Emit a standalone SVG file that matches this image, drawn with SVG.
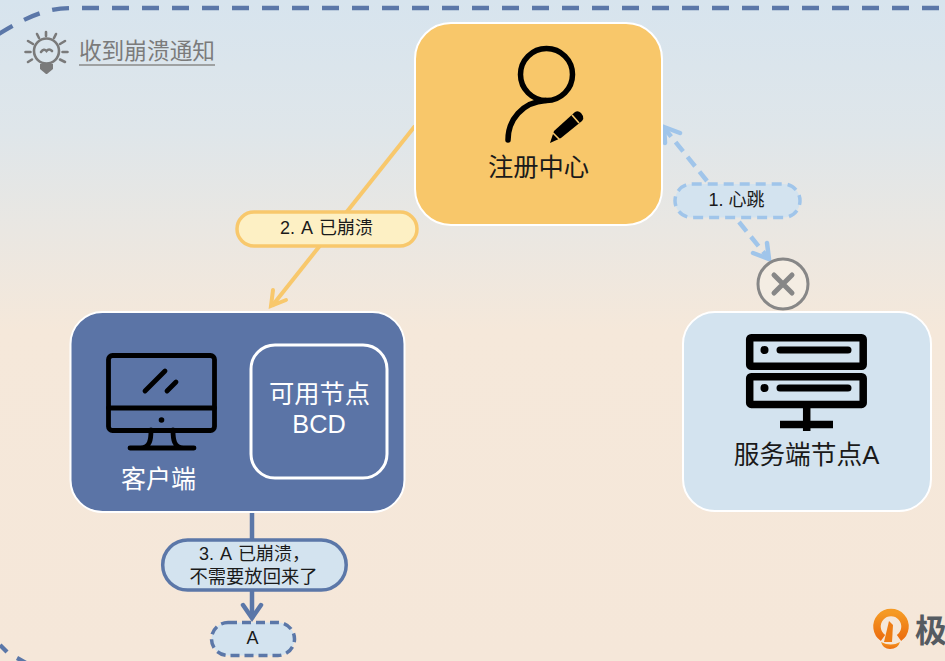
<svg xmlns="http://www.w3.org/2000/svg" width="945" height="661" viewBox="0 0 945 661">
<style>
text{font-family:"Liberation Sans","Noto Sans CJK SC",sans-serif;text-anchor:middle;fill:#1a1a1a}
.ink{fill:none;stroke:#000;stroke-linecap:round;stroke-linejoin:round}
.frame{fill:none;stroke:#5b77a8;stroke-width:4.300}
.node{stroke:#fff;stroke-width:2}
.bulb{fill:none;stroke:#7a7a7a;stroke-width:2.600;stroke-linecap:round}
.lbl{font-size:18px}
.wide{font-size:18px;word-spacing:2px}
</style>
<defs>
<linearGradient id="bg" x1="0" y1="0" x2="0" y2="1">
<stop offset="0" stop-color="#d7e4ee"/><stop offset="0.2" stop-color="#dfe6ea"/><stop offset="0.5" stop-color="#f5e8da"/><stop offset="1" stop-color="#f5e7d9"/>
</linearGradient>
<linearGradient id="logo" x1="0" y1="0" x2="0" y2="1">
<stop offset="0" stop-color="#f59a24"/><stop offset="1" stop-color="#ec6f10"/>
</linearGradient>
</defs>
<rect id="background" width="945" height="661" fill="url(#bg)"/>
<g id="frame">
<path class="frame" d="M969 8H72C50 8 30 14 -6 37" stroke-dasharray="17 13"/>
<path class="frame" d="M0 645L7 652M17 658L26 663"/>
</g>
<g id="connectors">
<path d="M415 126L272 306" fill="none" stroke="#f8c86c" stroke-width="4"/>
<path d="M273 290L271 306L286 300" fill="none" stroke="#f8c86c" stroke-width="4" stroke-linecap="round"/>
<path d="M707 181L665 129M739 222L769 259" fill="none" stroke="#a0c5ea" stroke-width="4.500" stroke-dasharray="12 7"/>
<path d="M665 143L664 127L680 133M753 253L769 259L767 243" fill="none" stroke="#a0c5ea" stroke-width="4.500" stroke-linecap="round"/>
<path d="M252 511V618" fill="none" stroke="#5b77a8" stroke-width="4.500"/>
<path d="M243 605L252 618L261 605" fill="none" stroke="#5b77a8" stroke-width="4.500" stroke-linecap="round"/>
</g>
<g id="notice">
<g id="bulb-icon">
<circle cx="46.500" cy="51" r="12.500" class="bulb"/>
<path d="M40 64H53V69L47 74H46L40 69Z" fill="#7a7a7a"/>
<path class="bulb" stroke-width="1.500" d="M41 52Q44 48 46.500 51Q49 48 52 51M46 32V36M37 34L39 38M56 34L54 38M28 41L33 44M65 41L60 44M25.500 52H30.500M62.500 52H67.500M28 62L32 59.500M65 62L60 59.500"/>
</g>
<text x="147" y="59" font-size="22.700" style="fill:#7b7b7b">收到崩溃通知</text>
<path d="M79 65H215" stroke="#8a8a8a" stroke-width="1.300" fill="none"/>
</g>
<g id="registry">
<rect class="node" x="415" y="23" width="247" height="202" rx="36" fill="#f8c76a"/>
<circle class="ink" cx="546.500" cy="74.500" r="26" stroke-width="5.500"/>
<path class="ink" stroke-width="5.500" d="M508 140C508 120 522 102 546 100.500"/>
<path d="M550 143L554 131L575 112Q578 110 581 113L583 116Q584 119 582 121L561 138Z" fill="#000"/>
<path d="M553 133L560 140" stroke="#f8c76a" stroke-width="1.600"/>
<path d="M572 115L579 123" stroke="#f8c76a" stroke-width="1.600"/>
<text x="538.500" y="176" font-size="25.300">注册中心</text>
</g>
<g id="client">
<rect class="node" x="70.500" y="312" width="334" height="200" rx="32" fill="#5b74a6"/>
<g class="ink">
<rect x="108.500" y="355.500" width="106" height="75" rx="4" stroke-width="4.800"/>
<path stroke-width="4.800" d="M108.500 408H214.500M145 391L165 371M167 391L176 382M151 430C151 440 150 447 141 448M173 430C173 440 174 447 183 448M130 448H194"/>
</g>
<circle cx="161.500" cy="420" r="2.800" fill="#000"/>
<text x="158.500" y="488" font-size="25" style="fill:#fff">客户端</text>
<rect x="251" y="345" width="136" height="133" rx="24" fill="#5b74a6" stroke="#fff" stroke-width="3"/>
<text x="319.500" y="403" font-size="25.300" style="fill:#fff">可用节点</text>
<text x="319" y="433" font-size="25.300" style="fill:#fff">BCD</text>
</g>
<g id="server">
<rect class="node" x="683" y="312" width="248" height="199" rx="32" fill="#d3e3ef"/>
<rect x="749.700" y="337.700" width="113.500" height="28.500" rx="1.500" fill="none" stroke="#000" stroke-width="7.500"/>
<rect x="749.700" y="376.700" width="113.500" height="27.700" rx="1.500" fill="none" stroke="#000" stroke-width="7.500"/>
<path d="M780 350H848M780 388H848" stroke="#000" stroke-width="7" stroke-linecap="round"/>
<circle cx="764.500" cy="350" r="4" fill="#000"/><circle cx="764.500" cy="388" r="4" fill="#000"/>
<path d="M806.700 408V431M780 424.500H833" stroke="#000" stroke-width="7.500"/>
<text x="806.500" y="464" font-size="25.700">服务端节点A</text>
</g>
<g id="failed-mark">
<circle cx="783" cy="284" r="25" fill="#f4ede3" stroke="#878787" stroke-width="3"/>
<path d="M774 275L792 293M792 275L774 293" stroke="#878787" stroke-width="5" stroke-linecap="round"/>
</g>
<g id="label-crashed">
<rect x="237" y="212" width="180" height="34" rx="17" fill="#fdf0c4" stroke="#f8c86c" stroke-width="3.500"/>
<text x="326.500" y="234" class="wide">2. A 已崩溃</text>
</g>
<g id="label-heartbeat">
<rect x="675" y="184" width="125" height="33.500" rx="16.700" fill="#d3e3ef" stroke="#a0c5ea" stroke-width="3.500" stroke-dasharray="10 6"/>
<text x="736.500" y="206" class="lbl">1. 心跳</text>
</g>
<g id="label-no-return">
<rect x="162.700" y="540" width="183.500" height="50" rx="25" fill="#d3e3ef" stroke="#5b77a8" stroke-width="3.500"/>
<text x="254.500" y="560" class="wide">3. A 已崩溃，</text>
<text x="253.500" y="583" font-size="18.300">不需要放回来了</text>
</g>
<g id="node-a">
<rect x="211.500" y="622.500" width="83" height="33" rx="16.500" fill="#d3e3ef" stroke="#5b77a8" stroke-width="3.500" stroke-dasharray="9 5"/>
<text x="252.500" y="644" class="lbl">A</text>
</g>
<g id="brand">
<path d="M881 642Q891 647 900 642Q898 649 890 649Q883 649 881 642Z" fill="url(#logo)"/>
<path d="M883 638A14 14 0 1 1 899 638" fill="none" stroke="url(#logo)" stroke-width="7.500"/>
<path d="M884 642L889 621L893 625L892 642Z" fill="#ee7c14"/>
<text x="915" y="642" font-size="32" font-weight="bold" style="fill:#555b61;text-anchor:start">极</text>
</g>
</svg>
